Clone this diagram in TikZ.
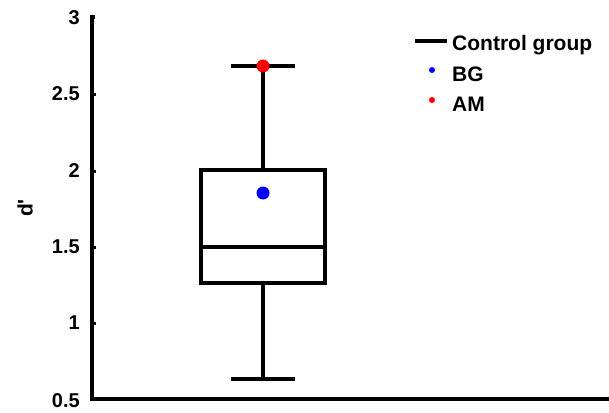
\documentclass[tikz,border=0pt]{standalone}
\usepackage{fontspec}
\setmainfont{Liberation Sans}
\begin{document}
\begin{tikzpicture}[x=1pt,y=-1pt,
  ax/.style={line width=4pt},
  bx/.style={line width=4pt,line cap=rect},
  ticklab/.style={anchor=east,font=\bfseries\fontsize{20}{20}\selectfont,inner sep=0pt},
  leglab/.style={anchor=base west,font=\bfseries\fontsize{21}{21}\selectfont,inner sep=0pt},
  dot/.style={circle,inner sep=0pt,minimum size=#1}]
\useasboundingbox (0,0) rectangle (609,412);
% axes
\coordinate (top) at (92,17);
\coordinate (origin) at (92,399);
\coordinate (xend) at (609,399);
\draw[ax,line join=miter] (95,17) -- (top) -- (origin) -- (xend);
% ticks
\foreach \v/\y in {2.5/94,2/171,1.5/247,1/323}{
  \draw[line width=3pt] (92,\y) -- (96,\y);
}
\foreach \v/\y in {3/18,2.5/94,2/171,1.5/247,1/323,0.5/401}{
  \node[ticklab] (t\v) at (80,\y) {\v};
}
\node[rotate=90,font=\bfseries\fontsize{21}{21}\selectfont,inner sep=0pt] (ylab) at (25,208) {d\textquotesingle};
% box plot
\node[draw,line width=4pt,minimum width=124pt,minimum height=113pt,inner sep=0pt] (box) at (263,226.5) {};
\draw[ax] (box.west |- 0,247) -- (box.east |- 0,247);
\coordinate (wtop) at (263,66);
\coordinate (wbot) at (263,379);
\draw[ax] (box.north) -- (wtop);
\draw[ax] (box.south) -- (wbot);
\draw[bx] (233,66) -- (293,66);
\draw[bx] (233,379) -- (293,379);
\node[dot=13pt,fill=blue] (bg) at (263,193) {};
\node[dot=13pt,fill=red] (am) at (263,66) {};
% legend
\coordinate (l1) at (415,41);
\coordinate (l2) at (447,41);
\draw[line width=4pt] (l1) -- (l2);
\node[leglab] (lc) at (452,51) {Control group};
\node[dot=6pt,fill=blue] (lbg) at (432,70) {};
\node[leglab] (lb) at (452,81) {BG};
\node[dot=6pt,fill=red] (lam) at (432,100) {};
\node[leglab] (la) at (452,111) {AM};
\end{tikzpicture}
\end{document}
